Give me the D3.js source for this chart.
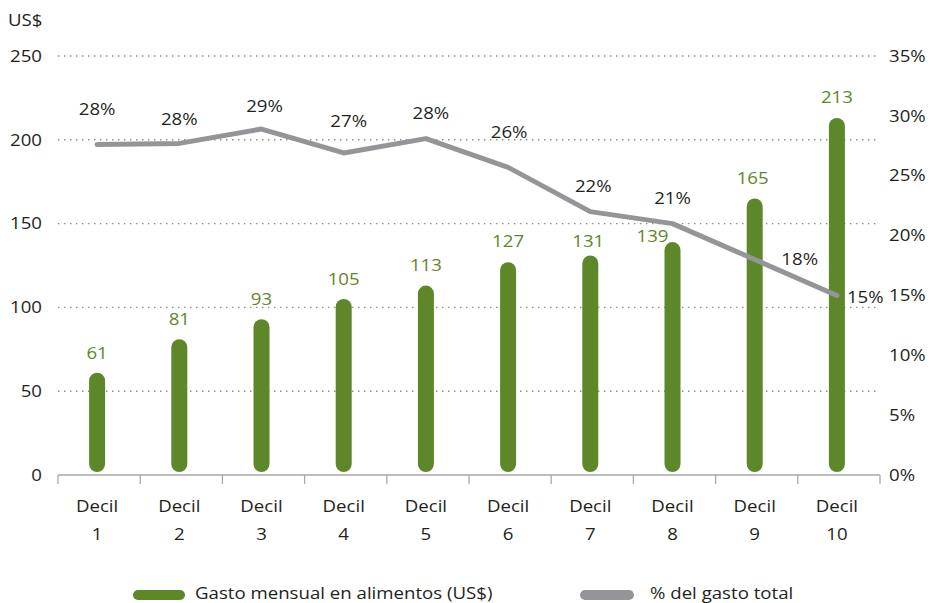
<!DOCTYPE html>
<html>
<head>
<meta charset="utf-8">
<script src="https://cdn.jsdelivr.net/npm/d3@7"></script>
<style>
  html, body { margin: 0; padding: 0; background: #fff; }
  svg { display: block; font-family: "Open Sans", "Noto Sans", sans-serif; }
</style>
</head>
<body>
<svg id="chart" width="931" height="603"></svg>
<script>
// Monthly food spending per income decile and its share of total spending
const deciles = ["1", "2", "3", "4", "5", "6", "7", "8", "9", "10"];
const foodSpend = [61, 81, 93, 105, 113, 127, 131, 139, 165, 213];
const shareOfTotal = [27.6, 27.7, 28.9, 26.9, 28.1, 25.7, 22.0, 21.0, 18.0, 15.0];
const leftTicks = [0, 50, 100, 150, 200, 250];
const rightTicks = [0, 5, 10, 15, 20, 25, 30, 35];
const legendLabels = ["Gasto mensual en alimentos (US$)", "% del gasto total"];

// label nudges (dx, dy) so annotations clear the line and bars
const pctLabelNudge = [
  [0, -35], [0, -24], [3, -23], [5, -32], [5, -25],
  [1, -35], [3, -25], [0, -25], [45, 0], [10, 2]
];
const barLabelNudge = [
  [0, -20], [0, -20], [0, -20], [0, -20], [0, -20],
  [0, -21], [-2, -14], [-20, -6], [-2, -20], [0, -21]
];

const GREEN = "#5e8729";
const GREY = "#939598";
const TEXT = "#231f20";
const FS = 16.5;   // font size
const SX = 1.13;   // horizontal stretch of the lettering

const svg = d3.select("#chart");
const plotL = 58, plotR = 880, plotT = 56, plotB = 475;

const x = d3.scaleBand().domain(deciles).range([plotL, plotR]).paddingInner(0).paddingOuter(0);
const y = d3.scaleLinear().domain([0, 250]).range([plotB, plotT]);
const y2 = d3.scaleLinear().domain([0, 35]).range([plotB, plotT]);
const cx = d => x(d) + x.bandwidth() / 2 - 2;

// places text at (px, py) with the stretched lettering
function place(sel, px, py) {
  return sel
    .attr("transform", (d, i) => `translate(${px(d, i)},${py(d, i)}) scale(${SX},1)`)
    .attr("dy", "0.35em")
    .attr("font-size", FS);
}

// dotted gridlines
svg.append("g")
  .selectAll("line")
  .data(leftTicks.filter(d => d > 0))
  .join("line")
  .attr("x1", plotL).attr("x2", plotR)
  .attr("y1", d => y(d)).attr("y2", d => y(d))
  .attr("stroke", "#8a8a8a")
  .attr("stroke-width", 1.4)
  .attr("stroke-dasharray", "1.4 4.6");

// left axis labels
place(svg.append("g")
  .selectAll("text")
  .data(leftTicks)
  .join("text"), () => 42, d => y(d))
  .attr("text-anchor", "end")
  .attr("fill", TEXT)
  .text(d => d);

place(svg.append("text"), () => 8, () => 20)
  .attr("fill", TEXT)
  .text("US$");

// right axis labels
place(svg.append("g")
  .selectAll("text")
  .data(rightTicks)
  .join("text"), () => 889, d => y2(d))
  .attr("fill", TEXT)
  .text(d => d + "%");

// x axis
const xAxis = svg.append("g").attr("transform", `translate(0,${plotB})`);
xAxis.append("line")
  .attr("x1", plotL).attr("x2", plotR)
  .attr("stroke", "#a7a9ac").attr("stroke-width", 1.6);
xAxis.selectAll("line.tick")
  .data(deciles.map(d => x(d)).concat([plotR]))
  .join("line")
  .attr("class", "tick")
  .attr("x1", d => d).attr("x2", d => d)
  .attr("y1", 0).attr("y2", 9)
  .attr("stroke", "#a7a9ac").attr("stroke-width", 1.3);

place(xAxis.selectAll("text.decil")
  .data(deciles)
  .join("text")
  .attr("class", "decil"), d => cx(d), () => 31)
  .attr("text-anchor", "middle").attr("fill", TEXT)
  .text("Decil");
place(xAxis.selectAll("text.num")
  .data(deciles)
  .join("text")
  .attr("class", "num"), d => cx(d), () => 59)
  .attr("text-anchor", "middle").attr("fill", TEXT)
  .text(d => d);

// bars with rounded ends
const barW = 16;
svg.append("g")
  .selectAll("rect")
  .data(deciles)
  .join("rect")
  .attr("x", d => cx(d) - barW / 2)
  .attr("y", (d, i) => y(foodSpend[i]))
  .attr("width", barW)
  .attr("height", (d, i) => y(0) - 3 - y(foodSpend[i]))
  .attr("rx", barW / 2)
  .attr("fill", GREEN);

place(svg.append("g")
  .selectAll("text")
  .data(deciles)
  .join("text"),
  (d, i) => cx(d) + barLabelNudge[i][0],
  (d, i) => y(foodSpend[i]) + barLabelNudge[i][1])
  .attr("text-anchor", "middle")
  .attr("fill", GREEN)
  .text((d, i) => foodSpend[i]);

// share of total spending line
const line = d3.line()
  .x(d => cx(d.k))
  .y(d => y2(d.v));
const pts = deciles.map((k, i) => ({ k, v: shareOfTotal[i] }));
svg.append("path")
  .datum(pts)
  .attr("d", line)
  .attr("fill", "none")
  .attr("stroke", GREY)
  .attr("stroke-width", 5)
  .attr("stroke-linejoin", "round")
  .attr("stroke-linecap", "round");

const fmtPct = v => Math.round(v) + "%";
place(svg.append("g")
  .selectAll("text")
  .data(pts)
  .join("text"),
  (d, i) => cx(d.k) + pctLabelNudge[i][0],
  (d, i) => y2(d.v) + pctLabelNudge[i][1])
  .attr("text-anchor", (d, i) => i === pts.length - 1 ? "start" : "middle")
  .attr("fill", TEXT)
  .text(d => fmtPct(d.v));

// legend
const legendItems = [
  { label: legendLabels[0], color: GREEN, x0: 133, x1: 185, tx: 195 },
  { label: legendLabels[1], color: GREY, x0: 580, x1: 634, tx: 650 }
];
const legend = svg.append("g");
legend.selectAll("line")
  .data(legendItems)
  .join("line")
  .attr("x1", d => d.x0 + 5).attr("x2", d => d.x1 - 5)
  .attr("y1", 595).attr("y2", 595)
  .attr("stroke", d => d.color)
  .attr("stroke-width", 10)
  .attr("stroke-linecap", "round");
place(legend.selectAll("text")
  .data(legendItems)
  .join("text"), d => d.tx, () => 593)
  .attr("fill", TEXT)
  .text(d => d.label);
</script>
</body>
</html>
